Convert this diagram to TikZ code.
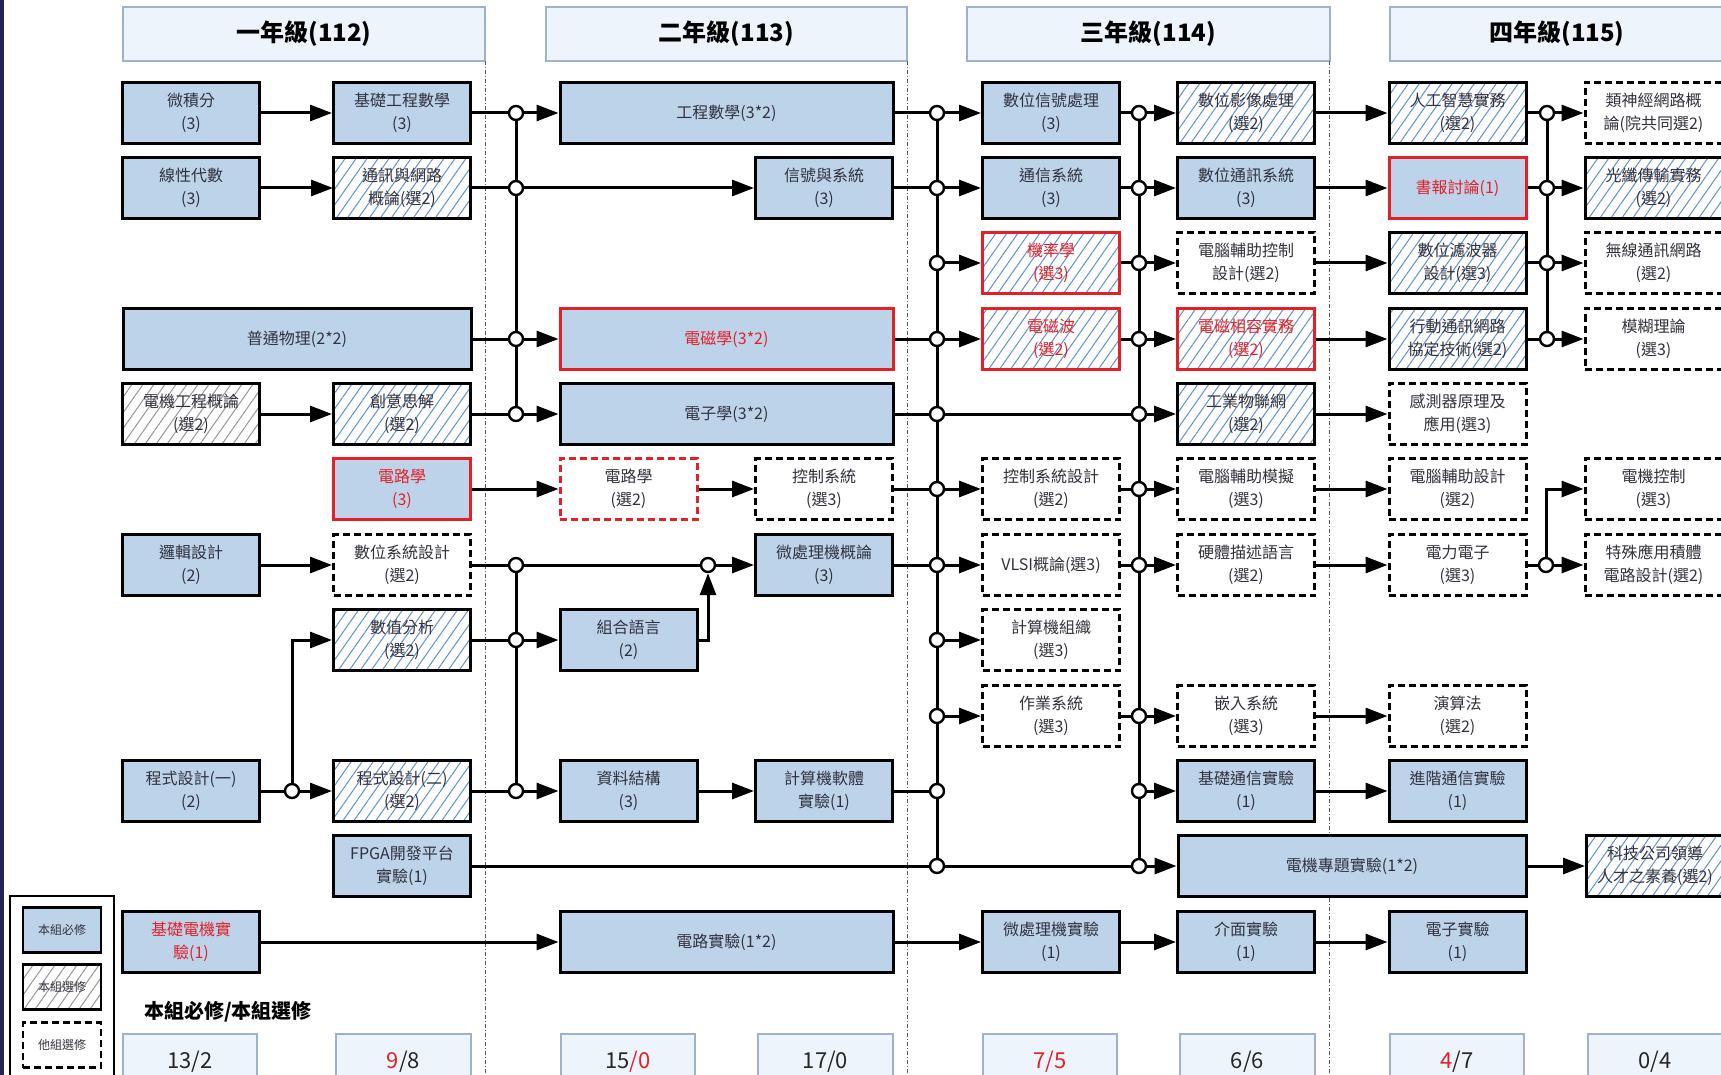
\documentclass[tikz,border=0pt]{standalone}
\usepackage{fontspec}
\setmainfont{Noto Sans CJK TC}
\definecolor{mustblue}{RGB}{189,211,234}
\definecolor{hatchblue}{RGB}{95,145,205}
\definecolor{hatchgray}{RGB}{150,150,150}
\definecolor{mlred}{RGB}{228,32,38}
\definecolor{txtgray}{RGB}{50,50,62}
\definecolor{headfill}{RGB}{238,244,251}
\definecolor{headline}{RGB}{158,178,204}
\definecolor{navy}{RGB}{36,38,84}
\usetikzlibrary{arrows.meta,patterns.meta}

\begin{document}
\begin{tikzpicture}[x=1pt,y=-1pt,
  cbox/.style={draw,line width=3pt,minimum width=137pt,minimum height=61pt,align=center,
    font=\fontsize{16}{23}\selectfont,text=txtgray,inner sep=1pt},
  must/.style={cbox,fill=mustblue},
  sel/.style={cbox,pattern={Lines[angle=55,distance=9pt,line width=1pt]},pattern color=hatchblue},
  gsel/.style={cbox,pattern={Lines[angle=55,distance=9pt,line width=1pt]},pattern color=hatchgray},
  oth/.style={cbox,fill=white,dash pattern=on 7pt off 4pt},
  redb/.style={draw=mlred},
  redt/.style={text=mlred},
  head/.style={draw=headline,line width=1.2pt,fill=headfill,minimum height=54pt,
    font=\fontsize{24}{28}\selectfont\bfseries},
  sum/.style={draw=headline,line width=1.2pt,fill=headfill,minimum width=135pt,minimum height=56pt,
    font=\fontsize{22}{26}\selectfont,text=black!85},
  jn/.style={circle,draw,fill=white,line width=2.4pt,inner sep=0pt,minimum size=14pt},
  ln/.style={line width=3pt},
  arr/.style={ln,-{Triangle[length=22pt,width=16pt]}},
  sep/.style={line width=0.9pt,gray!70!black,dash pattern=on 4pt off 2pt on 1pt off 2pt}
]
  \path[use as bounding box] (0,0) rectangle (1721,1075);
  \clip (0,0) rectangle (1721,1075);
  \fill[navy] (0,0) rectangle (3.5,1075);

  % year headers
  \node[head,minimum width=362pt] (y1) at (304,34) {一年級(112)};
  \node[head,minimum width=361pt] (y2) at (726.5,34) {二年級(113)};
  \node[head,minimum width=363pt] (y3) at (1148.5,34) {三年級(114)};
  \node[head,minimum width=334pt] (y4) at (1557,34) {四年級(115)};
  \draw[sep] (485,61) -- (485,1075);
  \draw[sep] (907,61) -- (907,1075);
  \draw[sep] (1329,61) -- (1329,1075);

  % first year
  \node[must] (calc) at (191,113) {微積分\\(3)};
  \node[must] (basemath) at (402,113) {基礎工程數學\\(3)};
  \node[must] (linalg) at (191,188) {線性代數\\(3)};
  \node[sel] (commnet) at (402,188) {通訊與網路\\概論(選2)};
  \node[must,minimum width=348pt] (physics) at (297,339) {普通物理(2*2)};
  \node[gsel] (eeintro) at (191,414) {電機工程概論\\(選2)};
  \node[sel] (creative) at (402,414) {創意思解\\(選2)};
  \node[must,redb,redt] (circuit) at (402,489) {電路學\\(3)};
  \node[must] (logic) at (191,565) {邏輯設計\\(2)};
  \node[oth] (digsys) at (402,565) {數位系統設計\\(選2)};
  \node[sel] (numana) at (402,640) {數值分析\\(選2)};
  \node[must] (prog1) at (191,791) {程式設計(一)\\(2)};
  \node[sel] (prog2) at (402,791) {程式設計(二)\\(選2)};
  \node[must] (fpga) at (402,866) {FPGA開發平台\\實驗(1)};
  \node[must,redt] (eelab) at (191,942) {基礎電機實\\驗(1)};

  % second year
  \node[must,minimum width=333pt] (engmath) at (726.5,113) {工程數學(3*2)};
  \node[must] (sigsys) at (824,188) {信號與系統\\(3)};
  \node[must,redb,redt,minimum width=333pt] (em) at (726.5,339) {電磁學(3*2)};
  \node[must,minimum width=333pt] (electronics) at (726.5,414) {電子學(3*2)};
  \node[oth,draw=mlred] (circuitel) at (628.5,489) {電路學\\(選2)};
  \node[oth] (ctrl) at (824,489) {控制系統\\(選3)};
  \node[must] (micro) at (824,565) {微處理機概論\\(3)};
  \node[must] (asm) at (628.5,640) {組合語言\\(2)};
  \node[must] (datastruct) at (628.5,791) {資料結構\\(3)};
  \node[must] (swlab) at (824,791) {計算機軟體\\實驗(1)};
  \node[must,minimum width=333pt] (circlab) at (726.5,942) {電路實驗(1*2)};

  % third year
  \node[must] (dsp) at (1051,113) {數位信號處理\\(3)};
  \node[must] (commsys) at (1051,188) {通信系統\\(3)};
  \node[sel,redb,redt] (prob) at (1051,263) {機率學\\(選3)};
  \node[sel,redb,redt] (emwave) at (1051,339) {電磁波\\(選2)};
  \node[oth] (ctrldes) at (1051,489) {控制系統設計\\(選2)};
  \node[oth] (vlsi) at (1051,565) {VLSI概論(選3)};
  \node[oth] (comporg) at (1051,640) {計算機組織\\(選3)};
  \node[oth] (os) at (1051,716) {作業系統\\(選3)};
  \node[must] (microlab) at (1051,942) {微處理機實驗\\(1)};
  \node[sel] (imgproc) at (1246,113) {數位影像處理\\(選2)};
  \node[must] (digcomm) at (1246,188) {數位通訊系統\\(3)};
  \node[oth] (cadctrl) at (1246,263) {電腦輔助控制\\設計(選2)};
  \node[sel,redb,redt] (emc) at (1246,339) {電磁相容實務\\(選2)};
  \node[sel] (iot) at (1246,414) {工業物聯網\\(選2)};
  \node[oth] (cadsim) at (1246,489) {電腦輔助模擬\\(選3)};
  \node[oth] (hdl) at (1246,565) {硬體描述語言\\(選2)};
  \node[oth] (embed) at (1246,716) {嵌入系統\\(選3)};
  \node[must] (commlab) at (1246,791) {基礎通信實驗\\(1)};
  \node[must,minimum width=348pt] (project) at (1352,866) {電機專題實驗(1*2)};
  \node[must] (iflab) at (1246,942) {介面實驗\\(1)};

  % fourth year
  \node[sel] (aiprac) at (1457.5,113) {人工智慧實務\\(選2)};
  \node[must,redb,redt] (seminar) at (1457.5,188) {書報討論(1)};
  \node[sel] (digfilt) at (1457.5,263) {數位濾波器\\設計(選3)};
  \node[sel] (mobile) at (1457.5,339) {行動通訊網路\\協定技術(選2)};
  \node[oth] (sensor) at (1457.5,414) {感測器原理及\\應用(選3)};
  \node[oth] (cad) at (1457.5,489) {電腦輔助設計\\(選2)};
  \node[oth] (power) at (1457.5,565) {電力電子\\(選3)};
  \node[oth] (algo) at (1457.5,716) {演算法\\(選2)};
  \node[must] (advcomm) at (1457.5,791) {進階通信實驗\\(1)};
  \node[must] (elab) at (1457.5,942) {電子實驗\\(1)};
  \node[oth] (neural) at (1653.5,113) {類神經網路概\\論(院共同選2)};
  \node[sel] (fiber) at (1653.5,188) {光纖傳輸實務\\(選2)};
  \node[oth] (wireless) at (1653.5,263) {無線通訊網路\\(選2)};
  \node[oth] (fuzzy) at (1653.5,339) {模糊理論\\(選3)};
  \node[oth] (motor) at (1653.5,489) {電機控制\\(選3)};
  \node[oth] (asic) at (1653.5,565) {特殊應用積體\\電路設計(選2)};
  \node[sel] (leader) at (1655,866) {科技公司領導\\人才之素養(選2)};

  % junctions
  \foreach \r/\y in {1/113,2/188,4/339,5/414,7/565,8/640,10/791}
    \node[jn] (b1r\r) at (516,\y) {};
  \foreach \r/\y in {1/113,2/188,3/263,4/339,5/414,6/489,7/565,8/640,9/716,10/791,11/866}
    \node[jn] (b2r\r) at (937,\y) {};
  \foreach \r/\y in {1/113,2/188,3/263,4/339,5/414,6/489,7/565,9/716,10/791,11/866}
    \node[jn] (b3r\r) at (1139,\y) {};
  \foreach \r/\y in {1/113,2/188,3/263,4/339}
    \node[jn] (b4r\r) at (1547,\y) {};
  \node[jn] (p10) at (292,791) {};
  \node[jn] (j7) at (708,565) {};
  \node[jn] (j8) at (1546,565) {};

  % buses
  \foreach \a/\b in {b1r1/b1r2,b1r2/b1r4,b1r4/b1r5,b1r7/b1r8,b1r8/b1r10,
      b2r1/b2r2,b2r2/b2r3,b2r3/b2r4,b2r4/b2r5,b2r5/b2r6,b2r6/b2r7,b2r7/b2r8,b2r8/b2r9,b2r9/b2r10,b2r10/b2r11,
      b3r1/b3r2,b3r2/b3r3,b3r3/b3r4,b3r4/b3r5,b3r5/b3r6,b3r6/b3r7,b3r7/b3r9,b3r9/b3r10,b3r10/b3r11,
      b4r1/b4r2,b4r2/b4r3,b4r3/b4r4}
    \draw[ln] (\a) -- (\b);

  % plain lines into junctions
  \foreach \a/\b in {basemath/b1r1,commnet/b1r2,physics/b1r4,creative/b1r5,digsys/b1r7,numana/b1r8,prog2/b1r10,
      engmath/b2r1,sigsys/b2r2,em/b2r4,electronics/b2r5,ctrl/b2r6,micro/b2r7,swlab/b2r10,fpga/b2r11,
      dsp/b3r1,commsys/b3r2,prob/b3r3,emwave/b3r4,ctrldes/b3r6,vlsi/b3r7,os/b3r9,
      aiprac/b4r1,seminar/b4r2,digfilt/b4r3,mobile/b4r4,
      b2r5/b3r5,b2r11/b3r11,b1r7/j7,prog1/p10,power/j8}
    \draw[ln] (\a) -- (\b);

  % arrows
  \foreach \a/\b in {calc/basemath,linalg/commnet,eeintro/creative,circuit/circuitel,circuitel/ctrl,logic/digsys,
      p10/prog2,eelab/circlab,
      b1r1/engmath,b1r2/sigsys,b1r4/em,b1r5/electronics,b1r8/asm,b1r10/datastruct,j7/micro,
      datastruct/swlab,circlab/microlab,
      b2r1/dsp,b2r2/commsys,b2r3/prob,b2r4/emwave,b2r6/ctrldes,b2r7/vlsi,b2r8/comporg,b2r9/os,
      microlab/iflab,
      b3r1/imgproc,b3r2/digcomm,b3r3/cadctrl,b3r4/emc,b3r5/iot,b3r6/cadsim,b3r7/hdl,b3r9/embed,
      b3r10/commlab,b3r11/project,
      imgproc/aiprac,digcomm/seminar,cadctrl/digfilt,emc/mobile,iot/sensor,cadsim/cad,hdl/power,
      embed/algo,commlab/advcomm,iflab/elab,project/leader,
      b4r1/neural,b4r2/fiber,b4r3/wireless,b4r4/fuzzy,j8/asic}
    \draw[arr] (\a) -- (\b);
  \draw[arr] (p10) |- (numana);
  \draw[arr] (asm) -| (j7);
  \draw[arr] (j8) |- (motor);

  % legend
  \draw[line width=2pt] (10,896) rectangle (114,1100);
  \node[must,minimum width=78pt,minimum height=45pt,line width=2.4pt,font=\fontsize{12}{14}\selectfont] (lgmust) at (62,930) {本組必修};
  \node[gsel,minimum width=78pt,minimum height=45pt,line width=2.4pt,font=\fontsize{12}{14}\selectfont] (lgsel) at (62,987) {本組選修};
  \node[oth,minimum width=78pt,minimum height=45pt,line width=2.4pt,font=\fontsize{12}{14}\selectfont] (lgoth) at (62,1045) {他組選修};

  % credits
  \node[font=\fontsize{20}{22}\selectfont\bfseries] (sumlbl) at (228,1012) {本組必修/本組選修};
  \node[sum,minimum width=134pt] (sA) at (190,1062) {13/2};
  \node[sum] (sB) at (403.5,1062) {\textcolor{mlred}{9}/8};
  \node[sum,minimum width=134pt] (sC) at (628,1062) {15\textcolor{mlred}{/0}};
  \node[sum] (sD) at (825.5,1062) {17/0};
  \node[sum,minimum width=134pt] (sE) at (1050,1062) {\textcolor{mlred}{7/5}};
  \node[sum] (sF) at (1247.5,1062) {6/6};
  \node[sum,minimum width=134pt] (sG) at (1457,1062) {\textcolor{mlred}{4}/7};
  \node[sum,minimum width=134pt] (sH) at (1655,1062) {0/4};
\end{tikzpicture}
\end{document}
